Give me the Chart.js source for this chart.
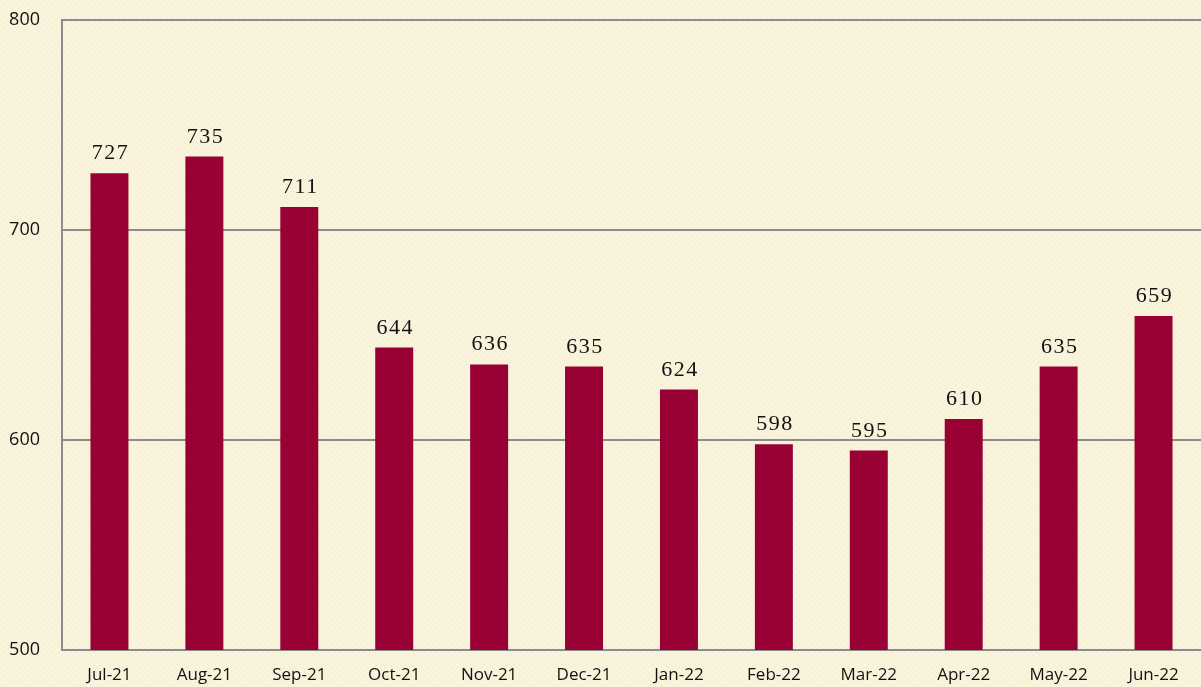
<!DOCTYPE html>
<html><head><meta charset="utf-8">
<script src="https://cdn.jsdelivr.net/npm/chart.js@4"></script>
<style>html,body{margin:0;padding:0;background:#f7f1d9;}#wrap{width:1201px;height:687px;}</style>
</head><body><div id="wrap"><canvas id="c" width="1201" height="687"></canvas></div>
<script>
const categories = ["Jul-21","Aug-21","Sep-21","Oct-21","Nov-21","Dec-21","Jan-22","Feb-22","Mar-22","Apr-22","May-22","Jun-22"];
const values = [727,735,711,644,636,635,624,598,595,610,635,659];
const yTicks = [500,600,700,800];

const bgPlugin = {
  id:'bg',
  beforeDraw(chart){
    const ctx = chart.ctx;
    ctx.save();
    ctx.fillStyle = '#f7f1d9';
    ctx.fillRect(0,0,chart.width,chart.height);
    ctx.strokeStyle = 'rgba(255,255,255,0.35)';
    ctx.lineWidth = 1;
    for(let i=-chart.height;i<chart.width;i+=6){
      ctx.beginPath();ctx.moveTo(i,0);ctx.lineTo(i+chart.height,chart.height);ctx.stroke();
      ctx.beginPath();ctx.moveTo(i+chart.height,0);ctx.lineTo(i,chart.height);ctx.stroke();
    }
    ctx.restore();
  }
};
const labelPlugin = {
  id:'lbl',
  afterDatasetsDraw(chart){
    const ctx = chart.ctx;
    const meta = chart.getDatasetMeta(0);
    ctx.save();
    ctx.font = '22px "Liberation Serif", "Times New Roman", serif';
    try{ctx.letterSpacing='1.5px';}catch(e){}
    ctx.fillStyle = '#111';
    ctx.textAlign = 'center';
    ctx.textBaseline = 'alphabetic';
    meta.data.forEach((el,i)=>{
      ctx.fillText(String(values[i]), el.x + 1, el.y - 14);
    });
    ctx.restore();
  }
};

new Chart(document.getElementById('c'), {
  type:'bar',
  data:{labels:categories,datasets:[{data:values,backgroundColor:'#990033',barPercentage:0.4,categoryPercentage:1.0}]},
  options:{
    responsive:false,animation:false,
    layout:{padding:{top:20,right:0,left:0,bottom:0}},
    plugins:{legend:{display:false},tooltip:{enabled:false}},
    scales:{
      x:{
        grid:{display:false,drawTicks:false},
        border:{display:true,color:'#8c8c8c',width:2},
        ticks:{color:'#111',font:{family:'"Open Sans", "Liberation Sans", sans-serif',size:17},padding:15,maxRotation:0,autoSkip:false},
        afterFit(s){s.height=37;s.paddingLeft=0;s.paddingRight=0;}
      },
      y:{
        min:500,max:800,
        afterBuildTicks(s){s.ticks = yTicks.map(v=>({value:v}));},
        grid:{color:'#8c8c8c',lineWidth:2,drawTicks:false},
        border:{display:true,color:'#8c8c8c',width:2},
        ticks:{color:'#111',font:{family:'"Open Sans", "Liberation Sans", sans-serif',size:18},padding:22,crossAlign:'near'},
        afterFit(s){s.width=62;s.paddingTop=0;s.paddingBottom=0;}
      }
    }
  },
  plugins:[bgPlugin,labelPlugin]
});
</script></body></html>
